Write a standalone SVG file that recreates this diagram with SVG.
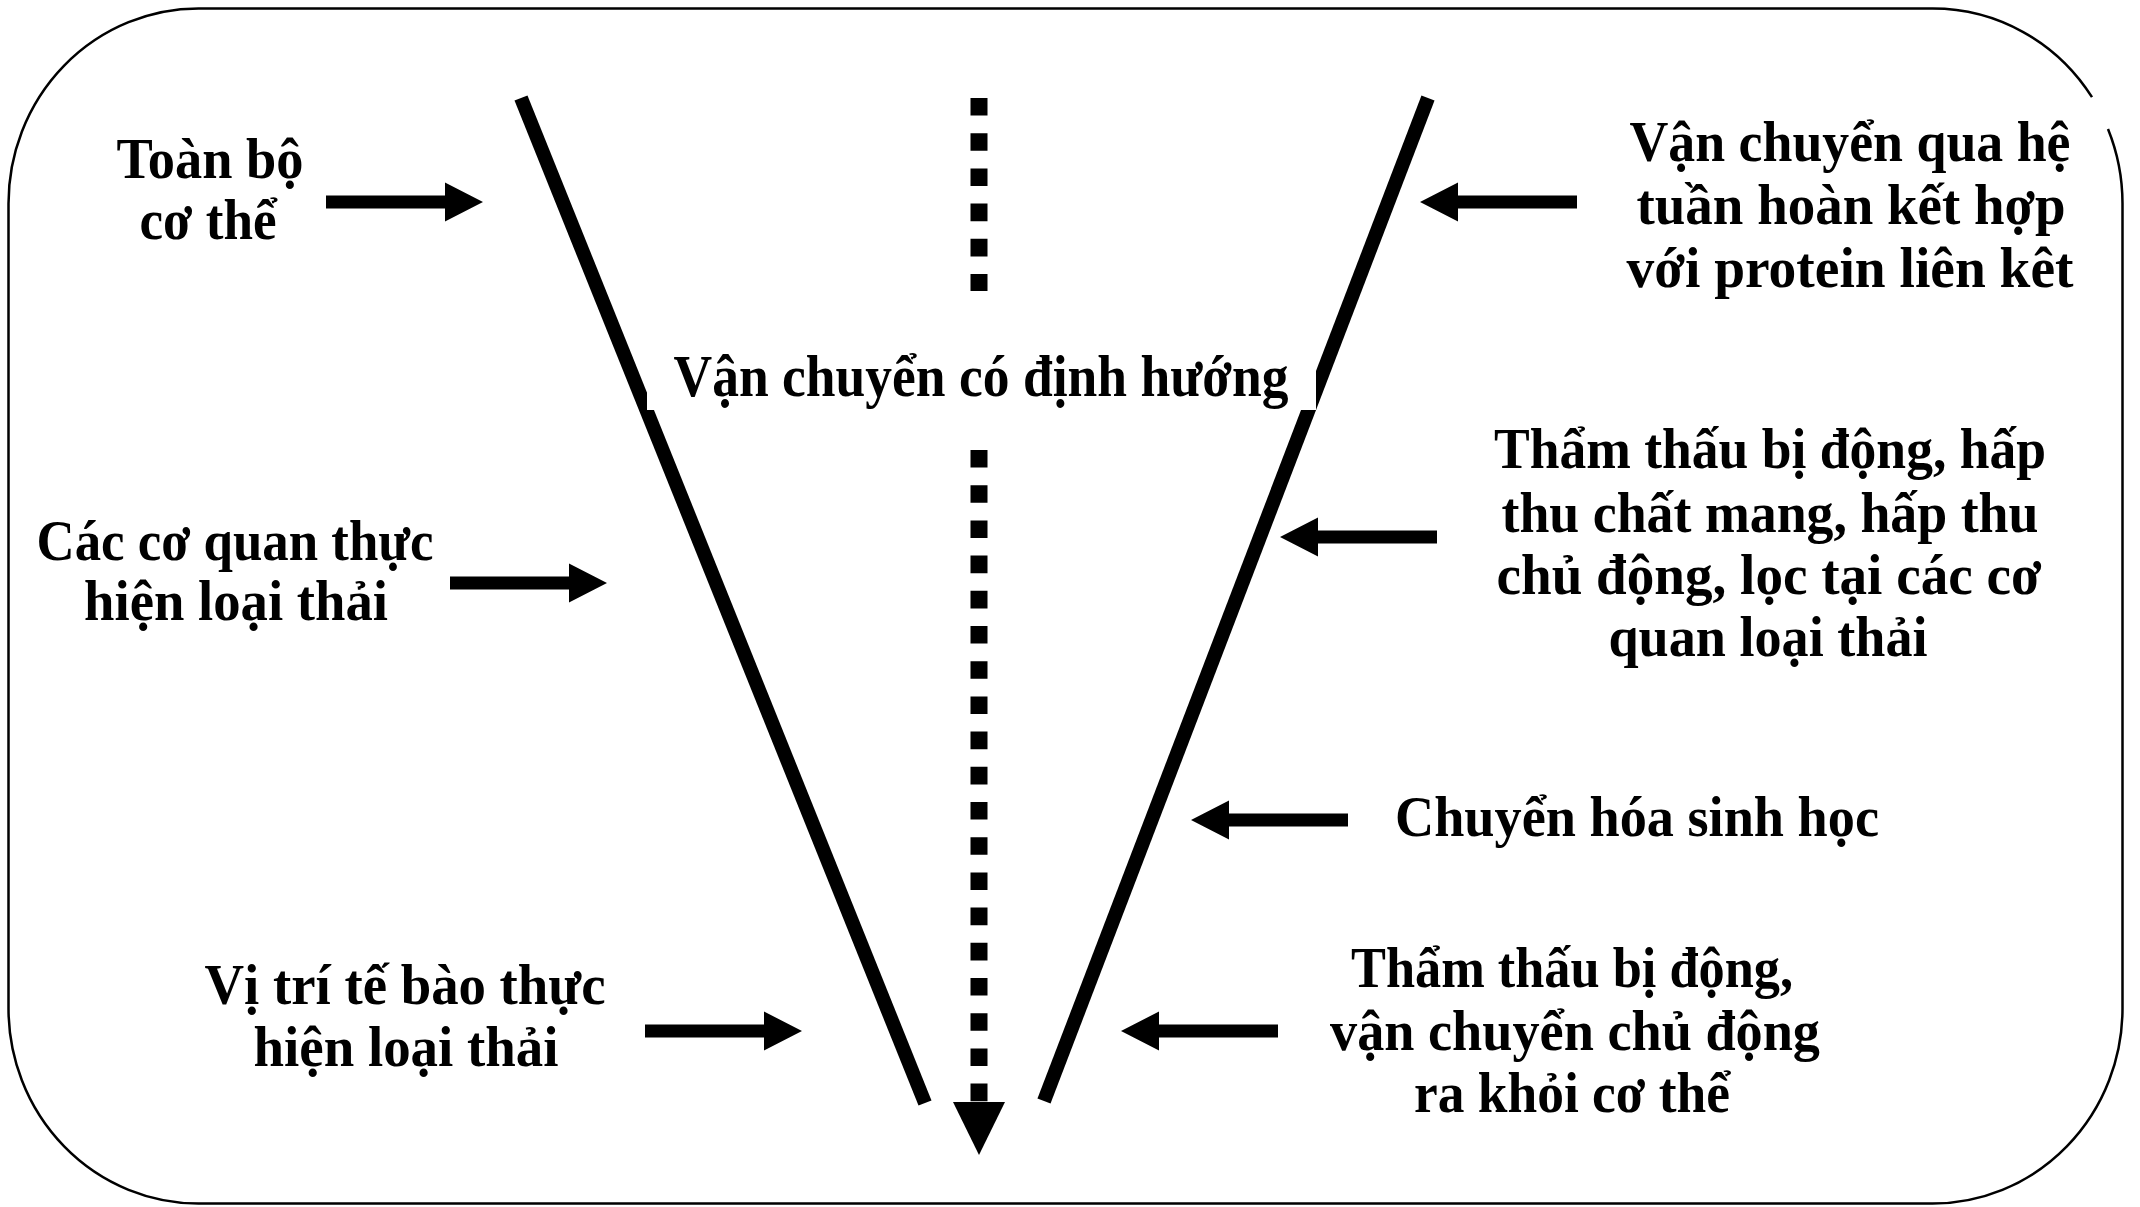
<svg xmlns="http://www.w3.org/2000/svg" xmlns:xlink="http://www.w3.org/1999/xlink" width="2140" height="1207" viewBox="0 0 2140 1207">
  <style>
    .lbl { font-family: "Liberation Serif", "Times New Roman", serif; font-weight: bold; font-size: 56px; fill: #000; text-anchor: middle; }
    .big { font-size: 60px; }
    .vline { stroke: #000; stroke-width: 14; stroke-linecap: butt; fill: none; }
    .dots { stroke: #000; stroke-width: 17; stroke-dasharray: 17.6 17.6; fill: none; }
    .arrow { fill: #000; }
  </style>
  <defs>
    <path id="blockArrow" d="M0,-6.5 H119 V-19.5 L157,0 L119,19.5 V6.5 H0 Z"/>
  </defs>
  <rect width="2140" height="1207" fill="#fff"/>
  <path id="frame" d="M2092,97.2 A190,195 0 0 0 1932.5,8.5 H198.5 A190,195 0 0 0 8.5,203.5 V1008.5 A190,195 0 0 0 198.5,1203.5 H1932.5 A190,195 0 0 0 2122.5,1008.5 V203.5 A190,195 0 0 0 2108,129" fill="none" stroke="#000" stroke-width="2.5"/>

  <g id="funnel">
    <line class="vline" x1="521" y1="98" x2="925" y2="1103"/>
    <line class="vline" x1="1428" y1="98" x2="1044" y2="1101"/>
  </g>

  <g id="connectors">
    <line class="dots" x1="979" y1="98" x2="979" y2="291"/>
    <line class="dots" x1="979" y1="450" x2="979" y2="1102"/>
    <polygon class="arrow" points="953,1102 1005,1102 979,1155"/>
    <use href="#blockArrow" class="arrow" transform="translate(326,202)"/>
    <use href="#blockArrow" class="arrow" transform="translate(450,583)"/>
    <use href="#blockArrow" class="arrow" transform="translate(645,1031)"/>
    <use href="#blockArrow" class="arrow" transform="translate(1577,202) scale(-1,1)"/>
    <use href="#blockArrow" class="arrow" transform="translate(1437,537) scale(-1,1)"/>
    <use href="#blockArrow" class="arrow" transform="translate(1348,820) scale(-1,1)"/>
    <use href="#blockArrow" class="arrow" transform="translate(1278,1031) scale(-1,1)"/>
  </g>

  <g id="node-center">
    <rect x="647" y="335" width="669" height="75" fill="#fff"/>
    <text class="lbl big" x="981" y="396" textLength="615" lengthAdjust="spacingAndGlyphs">Vận chuyển có định hướng</text>
  </g>

  <g id="node-toan-bo">
    <text class="lbl" x="210" y="178" textLength="187" lengthAdjust="spacingAndGlyphs">Toàn bộ</text>
    <text class="lbl" x="208" y="239" textLength="137" lengthAdjust="spacingAndGlyphs">cơ thể</text>
  </g>

  <g id="node-co-quan">
    <text class="lbl" x="235" y="560" textLength="397" lengthAdjust="spacingAndGlyphs">Các cơ quan thực</text>
    <text class="lbl" x="236" y="620" textLength="304" lengthAdjust="spacingAndGlyphs">hiện loại thải</text>
  </g>

  <g id="node-te-bao">
    <text class="lbl" x="405" y="1004" textLength="401" lengthAdjust="spacingAndGlyphs">Vị trí tế bào thực</text>
    <text class="lbl" x="406" y="1066" textLength="305" lengthAdjust="spacingAndGlyphs">hiện loại thải</text>
  </g>

  <g id="node-tuan-hoan">
    <text class="lbl" x="1850" y="161" textLength="441" lengthAdjust="spacingAndGlyphs">Vận chuyển qua hệ</text>
    <text class="lbl" x="1851" y="224" textLength="429" lengthAdjust="spacingAndGlyphs">tuần hoàn kết hợp</text>
    <text class="lbl" x="1850" y="287" textLength="447" lengthAdjust="spacingAndGlyphs">với protein liên kêt</text>
  </g>

  <g id="node-tham-thau-1">
    <text class="lbl" x="1770" y="468" textLength="552" lengthAdjust="spacingAndGlyphs">Thẩm thấu bị động, hấp</text>
    <text class="lbl" x="1770" y="532" textLength="537" lengthAdjust="spacingAndGlyphs">thu chất mang, hấp thu</text>
    <text class="lbl" x="1769" y="594" textLength="545" lengthAdjust="spacingAndGlyphs">chủ động, lọc tại các cơ</text>
    <text class="lbl" x="1768" y="656" textLength="319" lengthAdjust="spacingAndGlyphs">quan loại thải</text>
  </g>

  <g id="node-chuyen-hoa">
    <text class="lbl" x="1637" y="836" textLength="484" lengthAdjust="spacingAndGlyphs">Chuyển hóa sinh học</text>
  </g>

  <g id="node-tham-thau-2">
    <text class="lbl" x="1572" y="987" textLength="442" lengthAdjust="spacingAndGlyphs">Thẩm thấu bị động,</text>
    <text class="lbl" x="1575" y="1050" textLength="490" lengthAdjust="spacingAndGlyphs">vận chuyển chủ động</text>
    <text class="lbl" x="1572" y="1112" textLength="316" lengthAdjust="spacingAndGlyphs">ra khỏi cơ thể</text>
  </g>
</svg>
